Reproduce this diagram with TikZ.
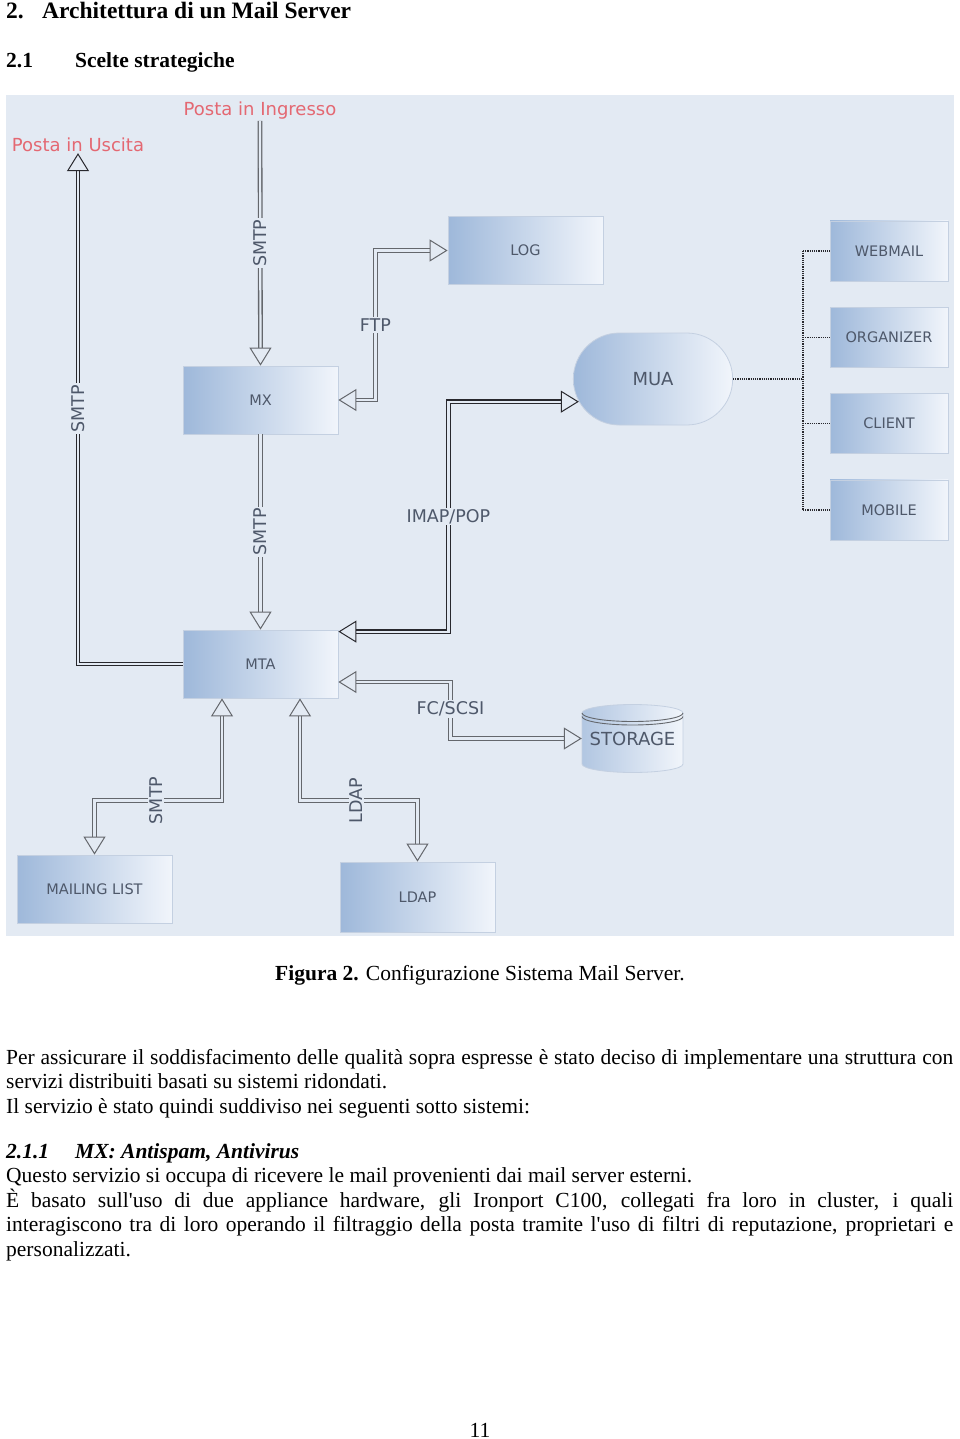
\documentclass[tikz,border=0pt]{standalone}
\usepackage{fontspec}
\setmainfont{Liberation Serif}
\newfontfamily\diafont{DejaVu Sans}
\usetikzlibrary{arrows.meta, positioning, shapes.misc}

\definecolor{bg}{RGB}{227,234,243}
\definecolor{boxdark}{RGB}{158,184,218}
\definecolor{boxlight}{RGB}{241,245,251}
\definecolor{boxline}{RGB}{196,208,225}
\definecolor{boxtext}{RGB}{78,88,106}
\definecolor{linkdark}{RGB}{40,40,45}
\definecolor{linkgray}{RGB}{100,103,108}
\definecolor{postared}{RGB}{228,104,114}

\begin{document}
\begin{tikzpicture}[x=1pt, y=-1pt]
    \tikzset{
        hollow/.tip = {Triangle[length=18pt, width=22pt, fill=bg, line width=1pt]},
        box/.style = {rectangle, draw=boxline, line width=0.8pt, left color=boxdark, right color=boxlight,
                      minimum width=155pt, minimum height=68pt, text=boxtext,
                      font=\diafont\fontsize{14.5}{16}\selectfont},
        cbox/.style = {box, minimum width=118pt, minimum height=60pt},
        link/.style = {draw=linkgray, line width=1.3pt, double=bg, double distance=2.2pt},
        darklink/.style = {link, draw=linkdark},
        lab/.style = {fill=bg, inner sep=1.5pt, text=boxtext, font=\diafont\fontsize{17.5}{18}\selectfont},
        posta/.style = {text=postared, inner sep=1pt, font=\diafont\fontsize{18}{20}\selectfont},
        dots/.style = {densely dotted, line width=1.2pt, draw=linkdark},
        body/.style = {anchor=base west, inner sep=0pt, font=\fontsize{21.5}{25}\selectfont},
        heading/.style = {body, font=\bfseries\fontsize{21.5}{25}\selectfont}
    }

    % pagina e sfondo della figura
    \fill[white] (0,0) rectangle (960,1439);
    \useasboundingbox (0,0) rectangle (960,1439);
    \fill[bg] (6,95) rectangle (954,936);

    % titoli
    \node[heading, font=\bfseries\fontsize{23.5}{26}\selectfont] (h1) at (6,19) {2.};
    \node[heading, font=\bfseries\fontsize{23.5}{26}\selectfont] (h1t) at (42,19) {Architettura di un Mail Server};
    \node[heading] (h2) at (6,68) {2.1};
    \node[heading] (h2t) at (75,68) {Scelte strategiche};

    % server
    \node[box] (log) at (525.5,250.5) {LOG};
    \node[box] (mx) at (260.5,400) {MX};
    \node[box] (mta) at (260.5,664) {MTA};
    \node[box] (mlist) at (94.5,889) {MAILING LIST};
    \node[box, minimum height=70pt] (ldap) at (417.5,897) {LDAP};
    \node[box, rounded rectangle, minimum width=166pt, minimum height=92pt,
          font=\diafont\fontsize{18}{20}\selectfont] (mua) at (653,379) {MUA};

    % client del MUA
    \node[cbox] (webmail) at (889,251) {WEBMAIL};
    \node[cbox, below=25.5pt of webmail] (organizer) {ORGANIZER};
    \node[cbox, below=25.5pt of organizer] (client) {CLIENT};
    \node[cbox, below=25.5pt of client] (mobile) {MOBILE};

    % storage (cilindro)
    \draw[boxline, line width=0.8pt, left color=boxdark!80, right color=boxlight]
        (582,713) -- (582,764) arc[start angle=180, end angle=0, x radius=50.5, y radius=8.5]
        -- (683,713) arc[start angle=0, end angle=-180, x radius=50.5, y radius=8.5] -- cycle;
    \draw[linkgray, line width=0.9pt] (582,713) arc[start angle=180, end angle=0, x radius=50.5, y radius=8.5];
    \draw[linkgray, line width=0.9pt] (582,716.5) arc[start angle=180, end angle=0, x radius=50.5, y radius=8.5];
    \node[text=boxtext, inner sep=0pt, minimum width=101pt, minimum height=67pt,
          font=\diafont\fontsize{18}{20}\selectfont] (storage) at (632.5,738.5) {STORAGE};

    % posta esterna
    \node[posta] (ingresso) at (260,111) {Posta in Ingresso};
    \node[posta] (uscita) at (78,145) {Posta in Uscita};

    % collegamenti SMTP
    \draw[link, -{hollow}] (ingresso.south) -- node[lab, rotate=90]{SMTP} (mx.north);
    \draw[link, -{hollow}] (mx.south) -- node[lab, rotate=90]{SMTP} (mta.north);
    \draw[darklink, -{hollow}] (mta.west) -| node[lab, rotate=90, pos=0.75]{SMTP} (uscita.south);

    % FTP verso il log
    \draw[link, {hollow}-{hollow}] (mx.east) -- ++(37,0) |- node[lab, pos=0.25]{FTP} (log.west);

    % IMAP/POP verso il MUA
    \draw[darklink, {hollow}-{hollow}] ([yshift=-2pt]mta.north east) -- ++(110,0)
        |- node[lab, pos=0.25]{IMAP/POP} (mua.197);

    % FC/SCSI verso lo storage
    \draw[link, {hollow}-{hollow}] ([yshift=-18pt]mta.east) -- ++(112,0)
        |- node[lab, pos=0.24]{FC/SCSI} (storage.west);

    % mailing list e LDAP
    \draw[link, {hollow}-{hollow}] ([xshift=-38.5pt]mta.south) -- ++(0,102)
        -| node[lab, rotate=90, pos=0.26]{SMTP} (mlist.north);
    \draw[link, {hollow}-{hollow}] ([xshift=39.5pt]mta.south) -- ++(0,102)
        -| node[lab, rotate=90, pos=0.24]{LDAP} (ldap.north);

    % MUA e client (tratteggiato)
    \draw[dots] (mua.east) -- ++(70,0) coordinate (hub);
    \draw[dots] (webmail.west -| hub) -- (mobile.west -| hub);
    \foreach \c in {webmail, organizer, client, mobile}
        \draw[dots] (\c.west -| hub) -- (\c.west);

    % didascalia
    \node[anchor=base, inner sep=0pt, font=\fontsize{21.5}{25}\selectfont] (caption) at (480,980)
        {\textbf{Figura 2.} Configurazione Sistema Mail Server.};

    % testo
    \node[body] (p1) at (6,1064) {\makebox[947pt][s]{Per assicurare il soddisfacimento delle qualità sopra espresse è stato deciso di implementare una struttura con}};
    \node[body] (p2) at (6,1088.5) {servizi distribuiti basati su sistemi ridondati.};
    \node[body] (p3) at (6,1113) {Il servizio è stato quindi suddiviso nei seguenti sotto sistemi:};
    \node[body, font=\bfseries\itshape\fontsize{21.5}{25}\selectfont] (h3) at (6,1158) {2.1.1};
    \node[body, font=\bfseries\itshape\fontsize{21.5}{25}\selectfont] (h3t) at (75,1158) {MX: Antispam, Antivirus};
    \node[body] (p4) at (6,1182.5) {Questo servizio si occupa di ricevere le mail provenienti dai mail server esterni.};
    \node[body] (p5) at (6,1207) {\makebox[947pt][s]{È basato sull\textquotesingle uso di due appliance hardware, gli Ironport C100, collegati fra loro in cluster, i quali}};
    \node[body] (p6) at (6,1231.5) {\makebox[947pt][s]{interagiscono tra di loro operando il filtraggio della posta tramite l\textquotesingle uso di filtri di reputazione, proprietari e}};
    \node[body] (p7) at (6,1256) {personalizzati.};

    % numero di pagina
    \node[anchor=base, inner sep=0pt, font=\fontsize{21.5}{25}\selectfont] (pagenum) at (480,1437) {11};
\end{tikzpicture}
\end{document}
